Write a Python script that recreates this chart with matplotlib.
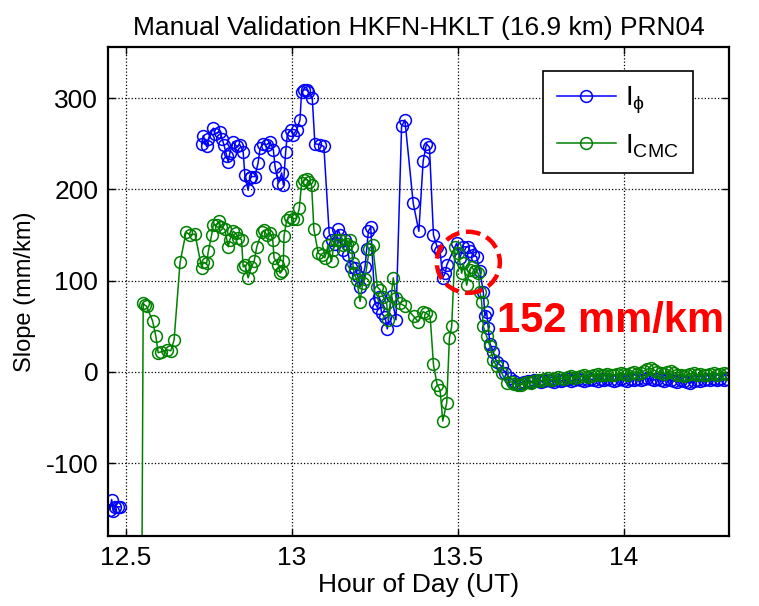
import numpy as np
import matplotlib
matplotlib.use('Agg')
import matplotlib.pyplot as plt
from matplotlib.patches import Ellipse

plt.rcParams['font.family'] = ['Liberation Sans', 'DejaVu Sans']
plt.rcParams['mathtext.fontset'] = 'custom'
plt.rcParams['mathtext.rm'] = 'Liberation Sans'
plt.rcParams['mathtext.it'] = 'Liberation Sans'
plt.rcParams['axes.unicode_minus'] = False

# I_phi slope series (hour of day, mm/km); nan = gap in data
phi_hour = [12.452, 12.457, 12.462, 12.467, 12.477, 12.482, np.nan,
            12.728, 12.733, 12.743, 12.748, 12.763, 12.768, 12.783, 12.790, 12.795, 12.803,
            12.808, 12.813, 12.823, 12.833, 12.843, 12.853, 12.858, 12.868, 12.873, 12.878,
            12.888, 12.898, 12.904, 12.914, 12.924, 12.934, 12.944, 12.949, 12.959, 12.969,
            12.974, 12.981, 12.986, 12.996, 13.004, 13.014, 13.024, 13.029, 13.036, 13.044,
            13.049, 13.061, 13.069, 13.084, 13.096, 13.112, 13.120, 13.130, 13.139, 13.145,
            13.155, 13.160, 13.170, 13.177, 13.190, 13.198, 13.205, 13.220, 13.225, 13.230,
            13.237, 13.250, 13.258, 13.263, 13.270, 13.280, 13.287, 13.300, 13.313, 13.330,
            13.340, 13.365, 13.382, 13.395, 13.405, 13.414, 13.426, 13.437, 13.446, 13.454,
            13.461, 13.466, 13.496, 13.506, 13.516, 13.531, 13.536, 13.546, 13.556, 13.566,
            13.576, 13.581, 13.586, 13.591, 13.596, 13.606, 13.616, 13.631, 13.642, 13.657,
            13.67, 13.68, 13.69, 13.70, 13.71, 13.72, 13.73, 13.74, 13.75, 13.76, 13.77,
            13.78, 13.79, 13.80, 13.81, 13.82, 13.83, 13.84, 13.85, 13.86, 13.87, 13.88,
            13.89, 13.90, 13.91, 13.92, 13.93, 13.94, 13.95, 13.96, 13.97, 13.98, 13.99,
            14.00, 14.01, 14.02, 14.03, 14.04, 14.05, 14.06, 14.07, 14.08, 14.09, 14.10,
            14.11, 14.12, 14.13, 14.14, 14.15, 14.16, 14.17, 14.18, 14.19, 14.20, 14.21,
            14.22, 14.23, 14.24, 14.25, 14.26, 14.27, 14.28, 14.29, 14.30, 14.31]
phi_slope = [-151, -140, -153, -148, -148, -148, np.nan,
             250, 259, 247, 255, 267, 261, 263, 255, 249, 237,
             230, 240, 252, 247, 249, 241, 216, 199, 212, 214,
             214, 229, 245, 250, 249, 252, 243, 225, 207, 218,
             205, 241, 260, 265, 260, 265, 276, 307, 309, 309,
             307, 300, 250, 249, 247, 152, 145, 140, 156, 150,
             134, 145, 128, 115, 114, 105, 93, 115, 135, 154,
             159, 75, 70, 82, 64, 60, 47, 83, 57, 269,
             276, 185, 154, 231, 250, 246, 150, 137, 132, 103,
             108, 117, 141, 125, 137, 137, 132, 128, 126, 110,
             88, 61, 66, 48, 31, 22, 11, 6, -1, -7,
             -10, -13, -12, -11, -10, -11, -9, -10, -11, -10, -9,
             -10, -11, -9, -10, -9, -8, -10, -9, -8, -9, -10,
             -9, -8, -9, -10, -8, -9, -8, -9, -10, -9, -8,
             -9, -10, -8, -9, -8, -9, -8, -7, -8, -9, -8,
             -9, -10, -8, -9, -10, -11, -9, -10, -11, -12, -10,
             -9, -10, -9, -8, -9, -8, -9, -8, -9, -8]

# I_CMC slope series
cmc_hour = [12.543, 12.552, 12.557, 12.562, 12.580, 12.590, 12.597, 12.607, 12.625, 12.635,
            12.645, 12.663, 12.681, 12.693, 12.708, 12.728, 12.733, 12.743, 12.748, 12.758,
            12.763, 12.773, 12.781, 12.785, 12.798, 12.808, 12.813, 12.823, 12.830, 12.838,
            12.848, 12.853, 12.858, 12.868, 12.878, 12.886, 12.894, 12.909, 12.916, 12.924,
            12.934, 12.942, 12.946, 12.959, 12.964, 12.969, 12.974, 12.976, 12.984, 12.994,
            13.004, 13.014, 13.022, 13.029, 13.036, 13.044, 13.052, 13.059, 13.066, 13.079,
            13.089, 13.099, 13.109, 13.119, 13.124, 13.134, 13.145, 13.155, 13.165, 13.175,
            13.180, 13.183, 13.187, 13.195, 13.205, 13.213, 13.220, 13.233, 13.243, 13.257,
            13.265, 13.275, 13.285, 13.290, 13.305, 13.313, 13.325, 13.340, 13.366, 13.380,
            13.395, 13.405, 13.416, 13.426, 13.437, 13.446, 13.454, 13.466, 13.474, 13.481,
            13.491, 13.501, 13.511, 13.516, 13.526, 13.536, 13.541, 13.551, 13.561, 13.566,
            13.571, 13.576, 13.586, 13.596, 13.606, 13.616, 13.631, 13.646, 13.662,
            13.67, 13.68, 13.69, 13.70, 13.71, 13.72, 13.73, 13.74, 13.75, 13.76, 13.77,
            13.78, 13.79, 13.80, 13.81, 13.82, 13.83, 13.84, 13.85, 13.86, 13.87, 13.88,
            13.89, 13.90, 13.91, 13.92, 13.93, 13.94, 13.95, 13.96, 13.97, 13.98, 13.99,
            14.00, 14.01, 14.02, 14.03, 14.04, 14.05, 14.06, 14.07, 14.08, 14.09, 14.10,
            14.11, 14.12, 14.13, 14.14, 14.15, 14.16, 14.17, 14.18, 14.19, 14.20, 14.21,
            14.22, 14.23, 14.24, 14.25, 14.26, 14.27, 14.28, 14.29, 14.30, 14.31]
cmc_slope = [-600, 75, 73, 72, 56, 39, 21, 22, 24, 23,
             35, 120, 153, 150, 151, 114, 120, 119, 132, 150,
             161, 161, 165, 159, 156, 137, 145, 154, 152, 147,
             145, 115, 117, 103, 115, 121, 137, 153, 155, 150,
             152, 145, 125, 117, 108, 110, 121, 149, 166, 170,
             168, 168, 179, 207, 210, 211, 208, 205, 156, 130,
             128, 125, 139, 121, 134, 145, 145, 139, 140, 145,
             137, 119, 108, 101, 77, 97, 102, 135, 139, 93,
             90, 82, 75, 57, 103, 81, 75, 72, 61, 55,
             66, 64, 61, 8, -14, -20, -54, -34, 37, 50,
             137, 130, 108, 119, 95, 112, 115, 110, 108, 88,
             77, 50, 39, 28, 13, 6, -1, -12, -11,
             -13, -15, -14, -12, -11, -12, -10, -9, -10, -8, -7,
             -9, -8, -6, -7, -8, -6, -5, -7, -6, -5, -4,
             -6, -5, -3, -2, -4, -3, -2, -3, -4, -2, -1,
             -2, -3, -1, 0, -2, -1, 1, 3, 4, 2, 0,
             -1, -2, 0, 1, -1, -3, -4, -5, -3, -2, -1,
             -3, -2, -4, -3, -2, -1, -3, -2, -1, -2]

fig = plt.figure(figsize=(7.59, 6.06), dpi=100)
ax = fig.add_axes([0.1423, 0.1155, 0.8182, 0.8069])

ax.plot(phi_hour, phi_slope, color='blue', lw=1.1, marker='o', ms=8.5,
        mfc='none', mec='blue', mew=1.1, label=r'I$_{\phi}$')
ax.plot(cmc_hour, cmc_slope, color='green', lw=1.1, marker='o', ms=8.5,
        mfc='none', mec='green', mew=1.1, label=r'I$_{\mathrm{CMC}}$')

# red dashed highlight and annotation
ax.add_patch(Ellipse((13.531, 120), 0.19, 67, fill=False, ec='red', lw=3.2,
                     ls=(0, (3.3, 1.5)), zorder=5))
ax.text(13.617, 56, '152 mm/km', color='red', fontsize=30, fontweight='bold',
        va='center', ha='left')

ax.set_xlim(12.446, 14.316)
ax.set_ylim(-180, 356)
ax.set_xticks([12.5, 13, 13.5, 14])
ax.set_xticklabels(['12.5', '13', '13.5', '14'])
ax.set_yticks([-100, 0, 100, 200, 300])
ax.grid(True, color='black', ls=':', lw=0.9)
ax.tick_params(direction='in', top=True, right=True, length=5, width=1,
               labelsize=19, pad=7)
for s in ax.spines.values():
    s.set_linewidth(1.6)

ax.set_title('Manual Validation HKFN-HKLT (16.9 km) PRN04', fontsize=19, pad=9)
ax.set_xlabel('Hour of Day (UT)', fontsize=19, labelpad=2)
ax.set_ylabel('Slope (mm/km)', fontsize=17, labelpad=7)

leg = ax.legend(loc='upper right', bbox_to_anchor=(0.9415, 0.9515), borderaxespad=0,
                fontsize=20, handlelength=2.1, handletextpad=0.35, frameon=True,
                fancybox=False, edgecolor='black', framealpha=1, borderpad=0.5,
                labelspacing=0.58)
leg.get_frame().set_linewidth(1.2)

fig.savefig('out.png', dpi=100)
